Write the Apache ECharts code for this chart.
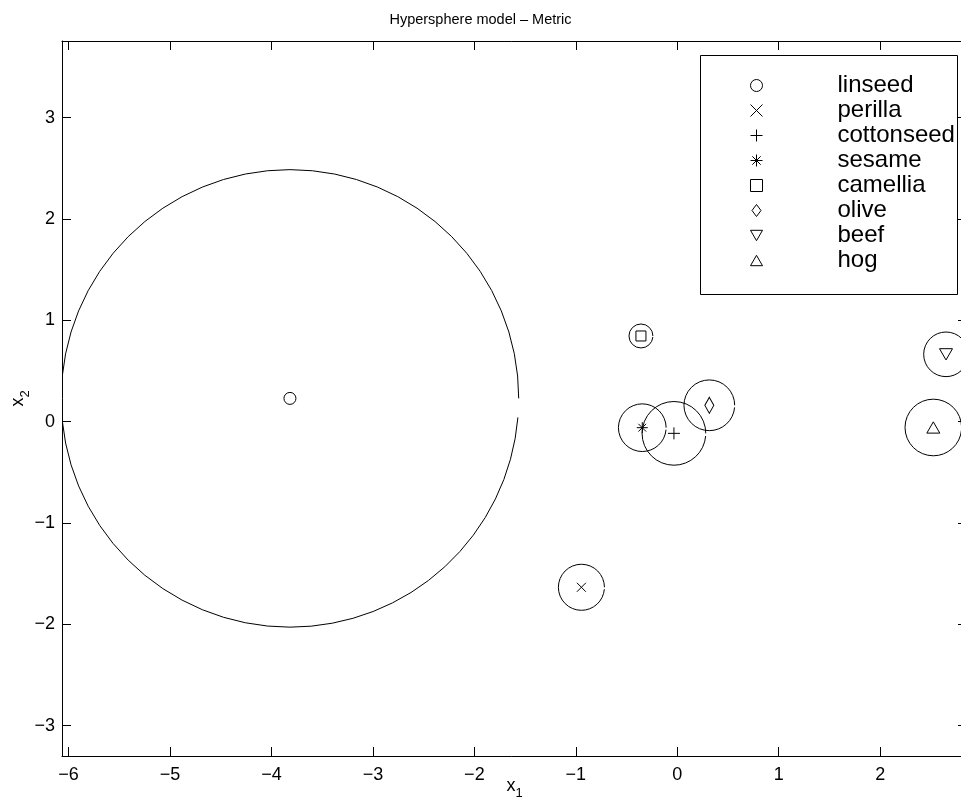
<!DOCTYPE html>
<html><head><meta charset="utf-8">
<script src="https://cdn.jsdelivr.net/npm/echarts@6/dist/echarts.min.js"></script>
<style>html,body{margin:0;padding:0;background:#fff}#c{width:961px;height:811px}</style>
</head><body><div id="c"></div>
<script>
const names = ['linseed','perilla','cottonseed','sesame','camellia','olive','beef','hog'];
const xs = [-3.818, -0.945, -0.033, -0.345, -0.358, 0.316, 2.649, 2.524];
const ys = [0.230, -1.634, -0.115, -0.059, 0.846, 0.162, 0.665, -0.057];
const radii = [2.255, 0.227, 0.314, 0.235, 0.118, 0.250, 0.220, 0.279];
const xTicks = [-6, -5, -4, -3, -2, -1, 0, 1, 2];
const yTicks = [-3, -2, -1, 0, 1, 2, 3];
const xRange = [-6.065, 2.856];
const yRange = [-3.299, 3.757];

const symbols = [
  {symbol: 'circle', size: 12},
  {symbol: 'path://M0 0L10 10M10 0L0 10', size: 9},
  {symbol: 'path://M5 0L5 10M0 5L10 5', size: 12},
  {symbol: 'path://M5 0L5 10M0 5L10 5M1.5 1.5L8.5 8.5M8.5 1.5L1.5 8.5', size: 11},
  {symbol: 'path://M0 0L10 0L10 10L0 10Z', size: 10},
  {symbol: 'path://M6 0L12 8L6 16L0 8Z', size: [12, 16]},
  {symbol: 'path://M0 0L10 0L5 8.66Z', size: 13},
  {symbol: 'path://M5 0L10 8.66L0 8.66Z', size: 13}
];
const FONT = '"Liberation Sans", Arial, Helvetica, sans-serif';
const fmt = v => String(v).replace('-', '\u2212');

const axisCommon = {
  type: 'value',
  axisLine: {show: true, onZero: false, lineStyle: {color: '#000', width: 1}},
  splitLine: {show: false}
};

const series = names.map((n, i) => ({
  name: n,
  type: 'scatter',
  data: [[xs[i], ys[i]]],
  symbol: symbols[i].symbol,
  symbolSize: symbols[i].size,
  symbolKeepAspect: true,
  itemStyle: {color: 'none', borderColor: '#000', borderWidth: 1, opacity: 1},
  emphasis: {disabled: true},
  z: 5
}));

series.push({
  name: 'spheres',
  type: 'custom',
  clip: true,
  data: names.map((n, i) => [xs[i], ys[i], radii[i]]),
  renderItem: (params, api) => {
    const c = api.coord([api.value(0), api.value(1)]);
    const s = api.size([api.value(2), api.value(2)]);
    return {
      type: 'arc',
      shape: {cx: c[0], cy: c[1], r: s[0], startAngle: 0, endAngle: -6.2, clockwise: false},
      style: {stroke: '#000', fill: 'none', lineWidth: 1}
    };
  },
  z: 3,
  silent: true
});

const chart = echarts.init(document.getElementById('c'), null, {renderer: 'canvas'});
chart.setOption({
  backgroundColor: '#fff',
  animation: false,
  title: {
    text: 'Hypersphere model \u2013 Metric',
    left: 'center', top: 7,
    textStyle: {fontFamily: FONT, fontSize: 14.5, fontWeight: 'normal', color: '#000'}
  },
  grid: {left: 62, top: 41, width: 905, height: 715, outerBoundsMode: 'none'},
  xAxis: [
    Object.assign({}, axisCommon, {
      position: 'bottom', min: xRange[0], max: xRange[1],
      axisTick: {show: true, inside: true, length: 9, customValues: xTicks, lineStyle: {color: '#000'}},
      axisLabel: {show: true, customValues: xTicks, formatter: fmt, margin: 10,
        fontFamily: FONT, fontSize: 18, color: '#000'},
      name: '{a|x}{b|1}', nameLocation: 'middle', nameGap: 17, nameMoveOverlap: false,
      nameTextStyle: {rich: {
        a: {fontFamily: FONT, fontSize: 18, color: '#000'},
        b: {fontFamily: FONT, fontSize: 13, color: '#000', padding: [14, 0, 0, 0]}
      }}
    }),
    Object.assign({}, axisCommon, {
      position: 'top', min: xRange[0], max: xRange[1],
      axisTick: {show: true, inside: true, length: 9, customValues: xTicks, lineStyle: {color: '#000'}},
      axisLabel: {show: false}
    })
  ],
  yAxis: [
    Object.assign({}, axisCommon, {
      position: 'left', min: yRange[0], max: yRange[1],
      axisTick: {show: true, inside: true, length: 9, customValues: yTicks, lineStyle: {color: '#000'}},
      axisLabel: {show: true, customValues: yTicks, formatter: fmt, margin: 7,
        fontFamily: FONT, fontSize: 18, color: '#000'},
      name: '{a|x}{b|2}', nameLocation: 'middle', nameGap: 30, nameRotate: 90, nameMoveOverlap: false,
      nameTextStyle: {rich: {
        a: {fontFamily: FONT, fontSize: 18, color: '#000'},
        b: {fontFamily: FONT, fontSize: 13, color: '#000', padding: [14, 0, 0, 0]}
      }}
    }),
    Object.assign({}, axisCommon, {
      position: 'right', min: yRange[0], max: yRange[1],
      axisTick: {show: true, inside: true, length: 9, customValues: yTicks, lineStyle: {color: '#000'}},
      axisLabel: {show: false}
    })
  ],
  legend: {
    data: names,
    orient: 'vertical',
    left: 748, top: 73,
    padding: 0,
    itemWidth: 12, itemHeight: 12, itemGap: 0,
    selectedMode: false,
    symbolKeepAspect: true,
    itemStyle: {borderWidth: 1},
    textStyle: {fontFamily: FONT, fontSize: 24, color: '#000', lineHeight: 25, padding: [0, 0, 0, 70]},
    z: 10
  },
  graphic: [{
    type: 'rect', z: 8,
    shape: {x: 700.5, y: 55.5, width: 257, height: 239},
    style: {fill: '#fff', stroke: '#000', lineWidth: 1}
  }],
  series: series
});
</script></body></html>
